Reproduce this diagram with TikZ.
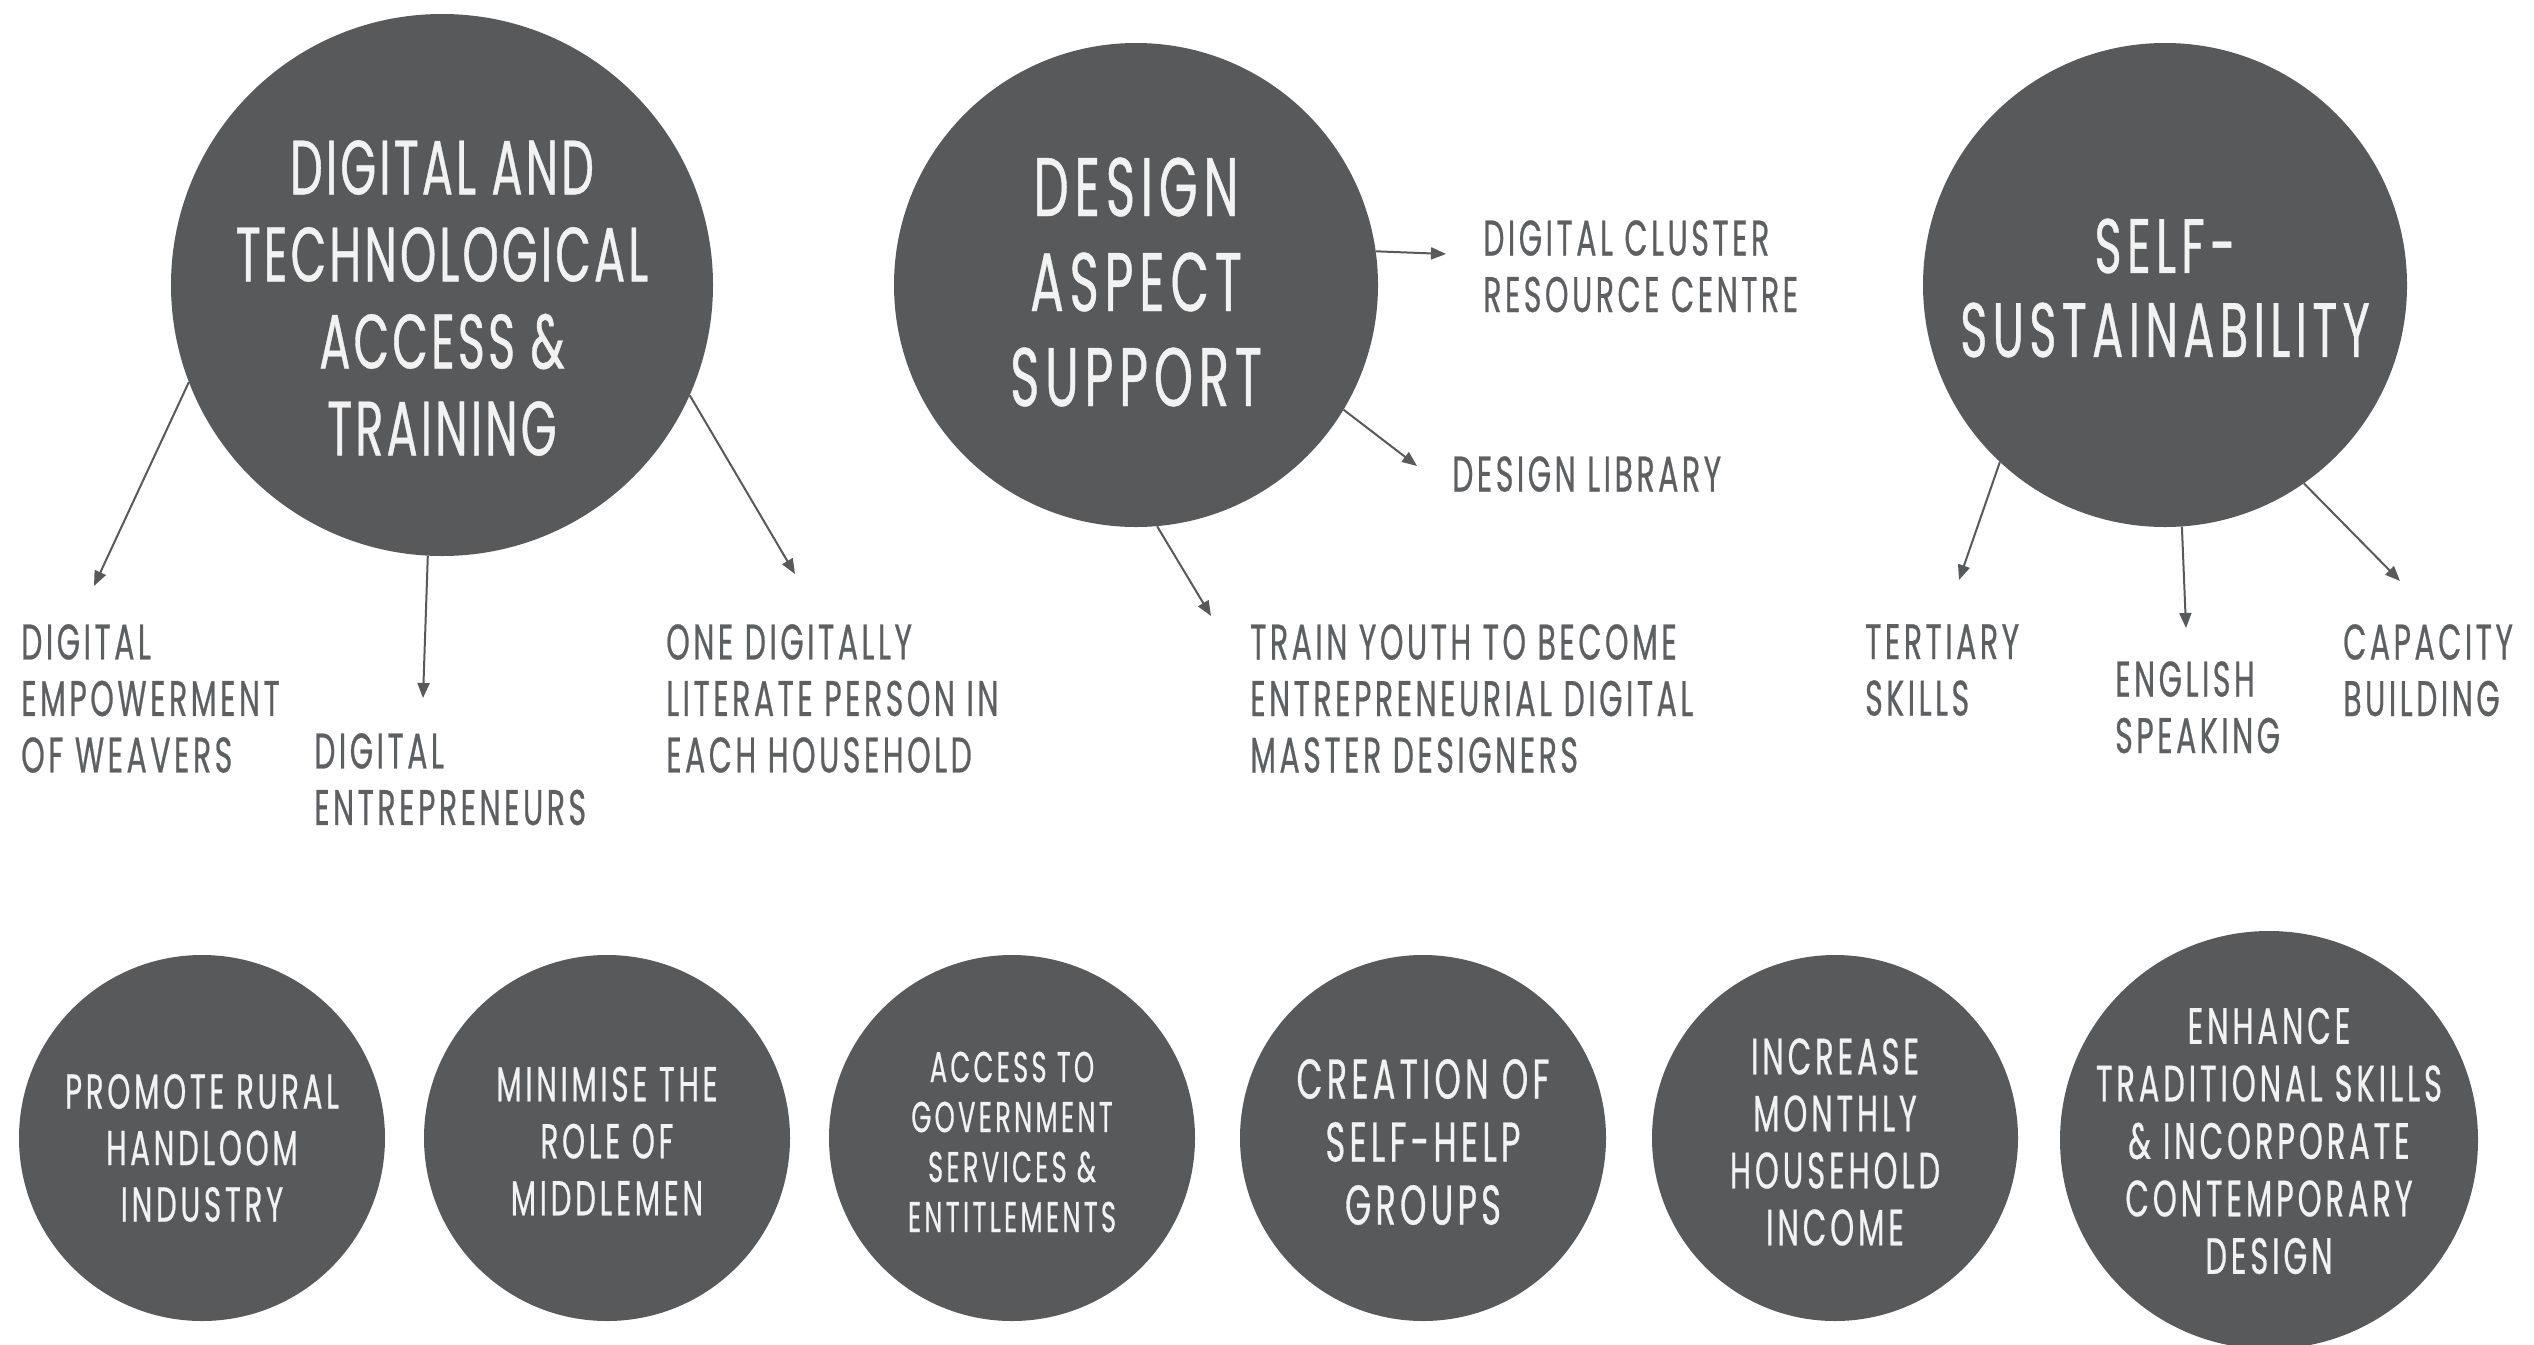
\documentclass[tikz,border=0pt]{standalone}
\usepackage{fontspec}
\setmainfont[FakeStretch=0.6]{Poppins}
\newfontfamily\lblff[FakeStretch=0.6,LetterSpace=7,FakeBold=0.5]{Poppins}
\newfontfamily\bigff[FakeStretch=0.6,LetterSpace=4,FakeBold=0.5]{Poppins}
\newfontfamily\bigffw[FakeStretch=0.6,LetterSpace=7,FakeBold=0.5]{Poppins}
\newfontfamily\smallff[FakeStretch=0.6,LetterSpace=7.5,FakeBold=0.5]{Poppins}
\usetikzlibrary{arrows.meta}
\definecolor{discgray}{HTML}{58595B}
\definecolor{lblgray}{HTML}{5E5F61}
\definecolor{discText}{HTML}{F2F2F2}
\newcommand\lblfont{\lblff\fontsize{50}{56.5}\selectfont}
\begin{document}
\begin{tikzpicture}[x=1pt,y=-1pt,
  discnode/.style={circle, fill=discgray, draw=none, inner sep=0pt, minimum size=#1},
  disctext/.style={text=discText, align=center, inner sep=0pt, anchor=center},
  lbltext/.style={text=lblgray, align=left, inner sep=0pt, anchor=north west, font=\lblfont},
  conn/.style={draw=discgray, line width=2pt, -{Triangle[length=15pt,width=12pt]}}]
\fill[white] (0,0) rectangle (2534,1344);
\useasboundingbox (0,0) rectangle (2534,1344);
% top circles
\node[discnode=542pt] (c1) at (442,285) {};
\node[discnode=484pt] (c2) at (1136,285) {};
\node[discnode=484pt] (c3) at (2165,285) {};
\node[disctext, font=\bigff\fontsize{77}{87}\selectfont] (t1) at (442,298) {DIGITAL AND\\TECHNOLOGICAL\\ACCESS \&\\TRAINING};
\node[disctext, font=\bigffw\fontsize{83}{95}\selectfont] (t2) at (1136,282) {DESIGN\\ASPECT\\SUPPORT};
\node[disctext, font=\bigffw\fontsize{77}{84}\selectfont] (t3) at (2165,288) {SELF-\\SUSTAINABILITY};
% labels
\node[lbltext] (l11) at (21,624) {DIGITAL\\EMPOWERMENT\\OF WEAVERS};
\node[lbltext] (l12) at (314,733) {DIGITAL\\ENTREPRENEURS};
\node[lbltext] (l13) at (666,624) {ONE DIGITALLY\\LITERATE PERSON IN\\EACH HOUSEHOLD};
\node[lbltext] (l21) at (1483,220) {DIGITAL CLUSTER\\RESOURCE CENTRE};
\node[lbltext] (l22) at (1452,456) {DESIGN LIBRARY};
\node[lbltext] (l23) at (1250,624) {TRAIN YOUTH TO BECOME\\ENTREPRENEURIAL DIGITAL\\MASTER DESIGNERS};
\node[lbltext] (l31) at (1865,624) {TERTIARY\\SKILLS};
\node[lbltext] (l32) at (2115,661) {ENGLISH\\SPEAKING};
\node[lbltext] (l33) at (2343,624) {CAPACITY\\BUILDING};
% arrow tips
\coordinate (a11) at (94,586);
\coordinate (a12) at (423,698);
\coordinate (a13) at (795,574);
\coordinate (a21) at (1446,254);
\coordinate (a22) at (1417,466);
\coordinate (a23) at (1211,616);
\coordinate (a31) at (1959,580);
\coordinate (a32) at (2186,628);
\coordinate (a33) at (2400,581);
\draw[conn] (c1.201) -- (a11);
\draw[conn] (c1.267.5) -- (a12);
\draw[conn] (c1.336) -- (a13);
\draw[conn] (c2.8.4) -- (a21);
\draw[conn] (c2.329) -- (a22);
\draw[conn] (c2.275.7) -- (a23);
\draw[conn] (c3.227.5) -- (a31);
\draw[conn] (c3.274) -- (a32);
\draw[conn] (c3.305) -- (a33);
% bottom circles
\node[discnode=366pt] (b1) at (202,1138) {};
\node[discnode=366pt] (b2) at (607,1138) {};
\node[discnode=366pt] (b3) at (1012,1138) {};
\node[discnode=366pt] (b4) at (1423,1138) {};
\node[discnode=366pt] (b5) at (1835,1138) {};
\node[discnode=418pt] (b6) at (2269,1140) {};
\node[disctext, font=\smallff\fontsize{49}{56.5}\selectfont] (bt1) at (202,1148) {PROMOTE RURAL\\HANDLOOM\\INDUSTRY};
\node[disctext, font=\smallff\fontsize{49}{57}\selectfont] (bt2) at (607,1141) {MINIMISE THE\\ROLE OF\\MIDDLEMEN};
\node[disctext, font=\smallff\fontsize{43}{50}\selectfont] (bt3) at (1012,1142) {ACCESS TO\\GOVERNMENT\\SERVICES \&\\ENTITLEMENTS};
\node[disctext, font=\smallff\fontsize{56}{63}\selectfont] (bt4) at (1423,1142) {CREATION OF\\SELF-HELP\\GROUPS};
\node[disctext, font=\smallff\fontsize{51}{57}\selectfont] (bt5) at (1835,1142) {INCREASE\\MONTHLY\\HOUSEHOLD\\INCOME};
\node[disctext, font=\smallff\fontsize{51}{57.5}\selectfont] (bt6) at (2269,1141) {ENHANCE\\TRADITIONAL SKILLS\\\& INCORPORATE\\CONTEMPORARY\\DESIGN};
\end{tikzpicture}
\end{document}
